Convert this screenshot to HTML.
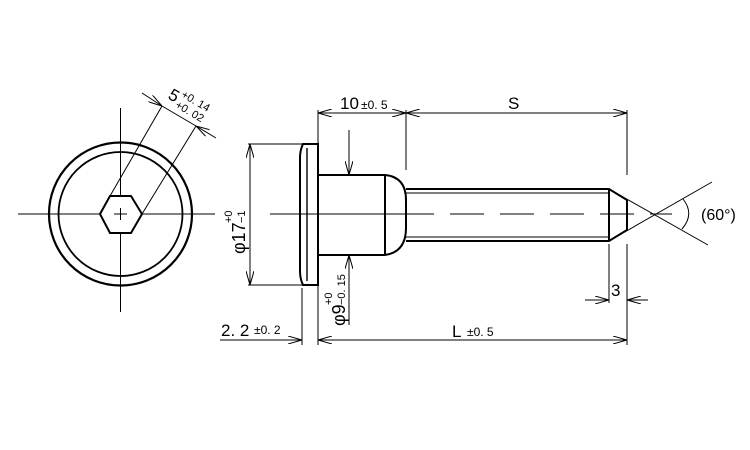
<!DOCTYPE html>
<html><head><meta charset="utf-8"><style>body{margin:0;background:#fff}svg{display:block}text{font-family:"Liberation Sans","Noto Sans CJK JP",sans-serif;fill:#000}</style></head>
<body>
<svg width="750" height="450" viewBox="0 0 750 450" xmlns="http://www.w3.org/2000/svg">
<defs>
<marker id="a" markerWidth="14" markerHeight="8" refX="14" refY="4" orient="auto-start-reverse" markerUnits="userSpaceOnUse"><path d="M0,0 L14,4 L0,8" fill="none" stroke="#000" stroke-width="1"/></marker>
</defs>
<g stroke="#000" fill="none">
<!-- front view -->
<circle cx="120.5" cy="214" r="71.5" stroke-width="2.2"/>
<circle cx="120.5" cy="214" r="62" stroke-width="1.8"/>
<polygon points="100,214 110,196 131,196 142,214 131,233 110,233" stroke-width="2"/>
<line x1="18" y1="214" x2="100" y2="214" stroke-width="1"/>
<line x1="142" y1="214" x2="215" y2="214" stroke-width="1"/>
<line x1="114" y1="214" x2="127" y2="214" stroke-width="1"/>
<line x1="120.5" y1="108" x2="120.5" y2="196" stroke-width="1"/>
<line x1="120.5" y1="233" x2="120.5" y2="312" stroke-width="1"/>
<line x1="120.5" y1="208" x2="120.5" y2="220" stroke-width="1"/>
<line x1="110" y1="196" x2="162" y2="106" stroke-width="1"/>
<line x1="142" y1="214" x2="196" y2="126" stroke-width="1"/>
<line x1="142" y1="93" x2="162" y2="106" stroke-width="1" marker-end="url(#a)"/>
<line x1="216" y1="138" x2="196" y2="126" stroke-width="1" marker-end="url(#a)"/>
<line x1="162" y1="106" x2="196" y2="126" stroke-width="1"/>
<!-- side view head -->
<path d="M318,144 L303,144 Q300,150 300,158 L300,271 Q300,279 303,285 L318,285 Z" stroke-width="2"/>
<line x1="307" y1="148" x2="307" y2="281" stroke-width="1.4"/>
<!-- shank -->
<path d="M318,175 L385,175 Q406,177 406,200 L406,228 Q406,252 385,255 L318,255" stroke-width="2"/>
<line x1="385" y1="175" x2="385" y2="255" stroke-width="2"/>
<!-- thread -->
<path d="M406,189 L609,189 L627,200 L627,230 L609,241 L406,241" stroke-width="2"/>
<line x1="609" y1="189" x2="609" y2="241" stroke-width="2"/>
<line x1="406" y1="193" x2="609" y2="193" stroke-width="1"/>
<line x1="406" y1="237" x2="609" y2="237" stroke-width="1"/>
<!-- center line -->
<line x1="270" y1="214" x2="400" y2="214" stroke-width="1"/>
<line x1="400" y1="214" x2="672" y2="214" stroke-width="1" stroke-dasharray="34,16"/>
<!-- 60 deg -->
<line x1="609" y1="189" x2="708" y2="245" stroke-width="1"/>
<line x1="609" y1="241" x2="712" y2="182" stroke-width="1"/>
<path d="M683,199 Q695,214 682,229" stroke-width="1"/>
<!-- extension lines -->
<line x1="318" y1="110" x2="318" y2="345" stroke-width="1"/>
<line x1="406" y1="110" x2="406" y2="170" stroke-width="1"/>
<line x1="627" y1="110" x2="627" y2="175" stroke-width="1"/>
<line x1="627" y1="244" x2="627" y2="345" stroke-width="1"/>
<line x1="609" y1="244" x2="609" y2="303" stroke-width="1"/>
<line x1="302" y1="288" x2="302" y2="345" stroke-width="1"/>
<line x1="248" y1="144" x2="303" y2="144" stroke-width="1"/>
<line x1="248" y1="285" x2="303" y2="285" stroke-width="1"/>
<!-- dims -->
<line x1="318" y1="113" x2="406" y2="113" stroke-width="1" marker-start="url(#a)" marker-end="url(#a)"/>
<line x1="406" y1="113" x2="627" y2="113" stroke-width="1" marker-start="url(#a)" marker-end="url(#a)"/>
<line x1="318" y1="340" x2="627" y2="340" stroke-width="1" marker-start="url(#a)" marker-end="url(#a)"/>
<line x1="220" y1="340" x2="302" y2="340" stroke-width="1" marker-end="url(#a)"/>
<line x1="585" y1="300" x2="609" y2="300" stroke-width="1" marker-end="url(#a)"/>
<line x1="648" y1="300" x2="627" y2="300" stroke-width="1" marker-end="url(#a)"/>
<line x1="250" y1="144" x2="250" y2="285" stroke-width="1" marker-start="url(#a)" marker-end="url(#a)"/>
<line x1="349" y1="130" x2="349" y2="175" stroke-width="1" marker-end="url(#a)"/>
<line x1="349" y1="325" x2="349" y2="255" stroke-width="1" marker-end="url(#a)"/>
</g>
<!-- texts -->
<g transform="translate(167,98) rotate(30)"><text x="0" y="0" font-size="17">5</text><text x="11" y="-8" font-size="11">+0. 14</text><text x="11" y="4" font-size="11">+0. 02</text></g>
<text x="340" y="109" font-size="17">10</text><text x="361" y="109" font-size="12">±0. 5</text>
<text x="508" y="109" font-size="17">S</text>
<text x="221" y="336" font-size="17">2. 2</text><text x="254" y="334" font-size="12">±0. 2</text>
<text x="452" y="337" font-size="17">L</text><text x="467" y="336" font-size="12">±0. 5</text>
<text x="611" y="296" font-size="17">3</text>
<text x="701" y="220" font-size="16">(60°)</text>
<g transform="translate(245,254) rotate(-90)"><text x="0" y="0" font-size="18">φ17</text><text x="31" y="-13" font-size="11">+0</text><text x="31" y="0" font-size="11">−1</text></g>
<g transform="translate(345,326) rotate(-90)"><text x="0" y="0" font-size="18">φ9</text><text x="21" y="-13" font-size="11">+0</text><text x="21" y="0" font-size="11">−0. 15</text></g>
</svg>
</body></html>
